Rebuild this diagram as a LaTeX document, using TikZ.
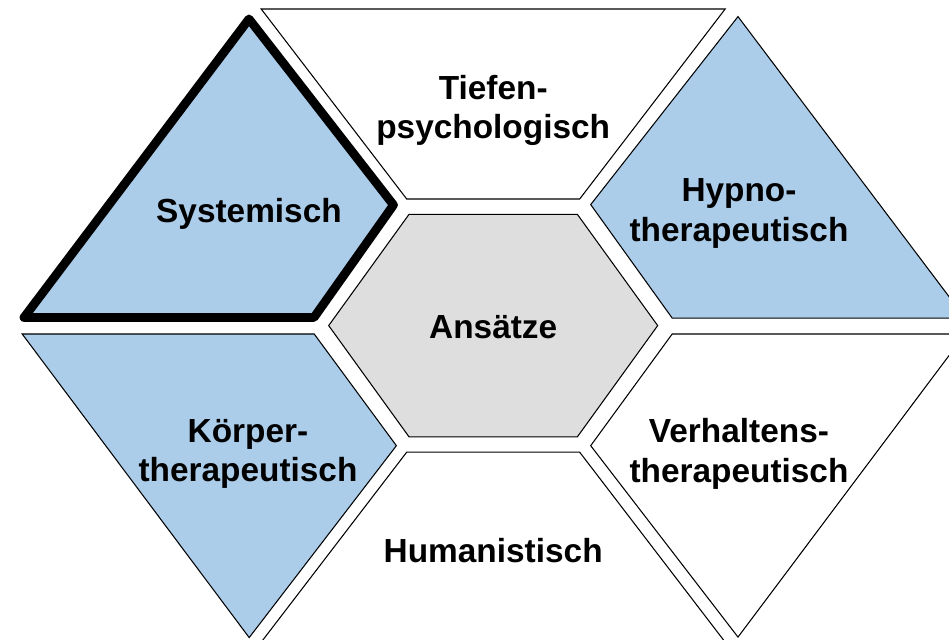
\documentclass[tikz,border=0pt]{standalone}
\usepackage{fontspec}
\setmainfont{Liberation Sans}
\definecolor{paleblue}{RGB}{171,205,234}
\definecolor{palegray}{RGB}{222,222,222}

\begin{document}
\begin{tikzpicture}[scale=2,
    field/.style={draw=black,line width=0.6pt},
    lbl/.style={align=center,font=\fontsize{19}{22.5}\selectfont\bfseries}]
  \useasboundingbox (-4.932,-3.144) rectangle (4.558,3.256);
  % centre
  \filldraw[field,fill=palegray] (-1.645,0) -- (-0.842,1.112) -- (0.842,1.112)
      -- (1.645,0) -- (0.842,-1.112) -- (-0.842,-1.112) -- cycle;
  % top and bottom
  \filldraw[field,fill=white] (-2.32,3.166) -- (2.32,3.166) -- (0.865,1.266) -- (-0.865,1.266) -- cycle;
  \filldraw[field,fill=white] (-0.865,-1.266) -- (0.865,-1.266) -- (2.32,-3.166) -- (-2.32,-3.166) -- cycle;
  % sides
  \filldraw[draw=black,line width=5pt,line join=round,fill=paleblue]
      (-2.442,3.066) -- (-0.997,1.206) -- (-1.792,0.081) -- (-4.692,0.081) -- cycle;
  \filldraw[field,fill=paleblue] (2.448,3.09) -- (4.72,0.075) -- (1.79,0.075) -- (0.975,1.21) -- cycle;
  \filldraw[field,fill=paleblue] (-4.71,-0.084) -- (-1.79,-0.084) -- (-0.968,-1.201) -- (-2.44,-3.12) -- cycle;
  \filldraw[field,fill=white] (4.72,-0.084) -- (1.79,-0.084) -- (0.975,-1.201) -- (2.448,-3.115) -- cycle;
  % labels
  \node[lbl] (ansaetze) at (0,-0.014) {Ansätze};
  \node[lbl] (tiefen) at (0,2.15) {Tiefen-\\psychologisch};
  \node[lbl] (system) at (-2.442,1.12) {Systemisch};
  \node[lbl] (hypno) at (2.458,1.12) {Hypno-\\therapeutisch};
  \node[lbl] (koerper) at (-2.452,-1.285) {Körper-\\therapeutisch};
  \node[lbl] (verhalten) at (2.458,-1.285) {Verhaltens-\\therapeutisch};
  \node[lbl] (human) at (0,-2.25) {Humanistisch};
\end{tikzpicture}
\end{document}
